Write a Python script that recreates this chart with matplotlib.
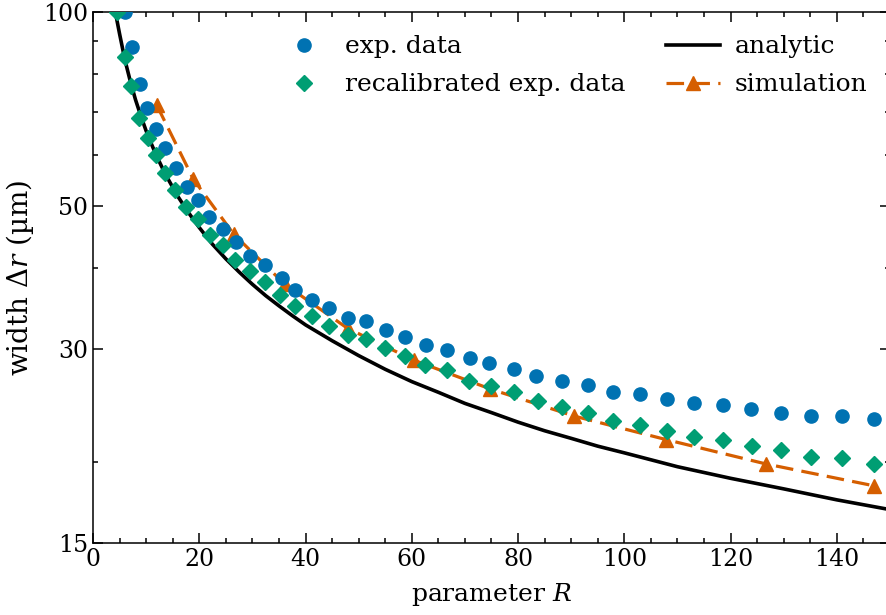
import matplotlib
matplotlib.use("Agg")
import matplotlib.pyplot as plt
from matplotlib.ticker import NullFormatter

R_exp = [6.0, 7.3, 8.9, 10.2, 11.9, 13.6, 15.6, 17.7, 19.8, 21.9, 24.4, 26.9,
         29.6, 32.3, 35.5, 38.1, 41.3, 44.5, 47.9, 51.4, 55.1, 58.7, 62.6, 66.6,
         70.9, 74.6, 79.3, 83.3, 88.3, 93.1, 97.9, 102.9, 108.1, 113.2, 118.5,
         123.9, 129.4, 135.2, 141.0, 146.9]
dr_exp = [100, 88.4, 77.2, 70.9, 65.8, 61.6, 57.2, 53.6, 51.1, 48.1, 46.1, 43.9,
          41.8, 40.5, 38.6, 37.1, 35.8, 34.7, 33.5, 33.1, 32.1, 31.3, 30.4, 29.9,
          29.0, 28.5, 27.9, 27.2, 26.8, 26.4, 25.7, 25.5, 25.1, 24.7, 24.6,
          24.2, 23.9, 23.6, 23.6, 23.4]

R_recal = [4.5, 6.0, 7.2, 8.7, 10.3, 11.8, 13.6, 15.4, 17.5, 19.8, 22.0, 24.5,
           26.8, 29.6, 32.3, 35.2, 38.1, 41.3, 44.5, 48.0, 51.4, 55.0, 58.8, 62.5,
           66.6, 70.8, 74.9, 79.3, 83.7, 88.3, 93.1, 97.9, 102.9, 108.0, 113.2,
           118.5, 124.0, 129.4, 135.2, 141.0, 146.9]
dr_recal = [100, 85.0, 76.7, 68.4, 63.7, 60.0, 56.3, 53.0, 49.9, 47.7, 45.1, 43.5,
            41.2, 39.7, 38.1, 36.4, 35.0, 33.7, 32.6, 31.5, 31.1, 30.1, 29.3, 28.3,
            27.8, 26.8, 26.3, 25.7, 24.9, 24.4, 23.9, 23.2, 22.9, 22.4, 21.9,
            21.7, 21.2, 20.9, 20.4, 20.3, 19.9]

R_sim = [12.0, 18.9, 26.5, 36.1, 47.9, 60.5, 74.8, 90.6, 107.9, 126.6, 147.0]
dr_sim = [71.7, 55.0, 45.2, 37.8, 32.3, 28.8, 26.0, 23.6, 21.7, 19.9, 18.4]

R_ana = [4.2, 5, 6, 7, 8, 9, 10, 11, 12, 13, 14, 16, 18, 20, 22.5, 25, 27.5,
         30, 32.5, 35, 37.5, 40, 45, 50, 55, 60, 65, 70, 75, 80, 85, 90, 95,
         100, 110, 120, 130, 140, 150]
dr_ana = [100, 92.5, 84.3, 78.2, 73.1, 69.0, 65.4, 62.4, 59.7, 57.4, 55.3,
          51.7, 48.8, 46.3, 43.6, 41.4, 39.5, 37.8, 36.3, 35.0, 33.8, 32.7,
          30.9, 29.3, 27.9, 26.7, 25.7, 24.7, 23.9, 23.1, 22.4, 21.8, 21.2,
          20.7, 19.7, 18.9, 18.2, 17.5, 16.9]

plt.rcParams['font.family'] = 'DejaVu Serif'
plt.rcParams['mathtext.fontset'] = 'dejavuserif'
plt.rcParams['font.size'] = 17

fig = plt.figure(figsize=(8.87, 6.15), dpi=100)
ax = fig.add_axes([93 / 887, 72 / 615, 797 / 887, 531 / 615])

l_ana, = ax.plot(R_ana, dr_ana, color='black', lw=2.6, zorder=2)
l_sim, = ax.plot(R_sim, dr_sim, color='#D55E00', lw=2.3, dashes=(5.5, 2.6),
                 marker='^', ms=10, zorder=3)
l_exp, = ax.plot(R_exp, dr_exp, 'o', color='#0072B2', ms=9.5, zorder=4)
l_rec, = ax.plot(R_recal, dr_recal, 'D', color='#009E73', ms=7.8, zorder=5)

ax.set_yscale('log')
ax.set_xlim(0, 150)
ax.set_ylim(15, 100)
ax.set_xticks(range(0, 141, 20))
ax.set_xticks(range(0, 151, 5), minor=True)
ax.set_yticks([15, 30, 50, 100])
ax.set_yticklabels(['15', '30', '50', '100'])
ax.set_yticks([20, 40, 60, 70, 80, 90], minor=True)
ax.yaxis.set_minor_formatter(NullFormatter())

ax.tick_params(which='both', direction='in', top=True, right=True, width=1.1)
ax.tick_params(which='major', length=7.2)
ax.tick_params(which='minor', length=3.8)
for s in ax.spines.values():
    s.set_linewidth(1.1)

ax.set_xlabel('parameter $R$', fontsize=18, labelpad=7)
ax.set_ylabel(r'width $\Delta r$ (µm)', fontsize=20, labelpad=5)

ax.legend([l_exp, l_rec, l_ana, l_sim],
          ['exp. data', 'recalibrated exp. data', 'analytic', 'simulation'],
          ncol=2, frameon=False, fontsize=18, loc='upper right',
          bbox_to_anchor=(0.984, 0.975), borderaxespad=0,
          handlelength=2.16, handletextpad=0.56, columnspacing=1.64,
          labelspacing=0.6)

fig.savefig('out.png', dpi=100)
